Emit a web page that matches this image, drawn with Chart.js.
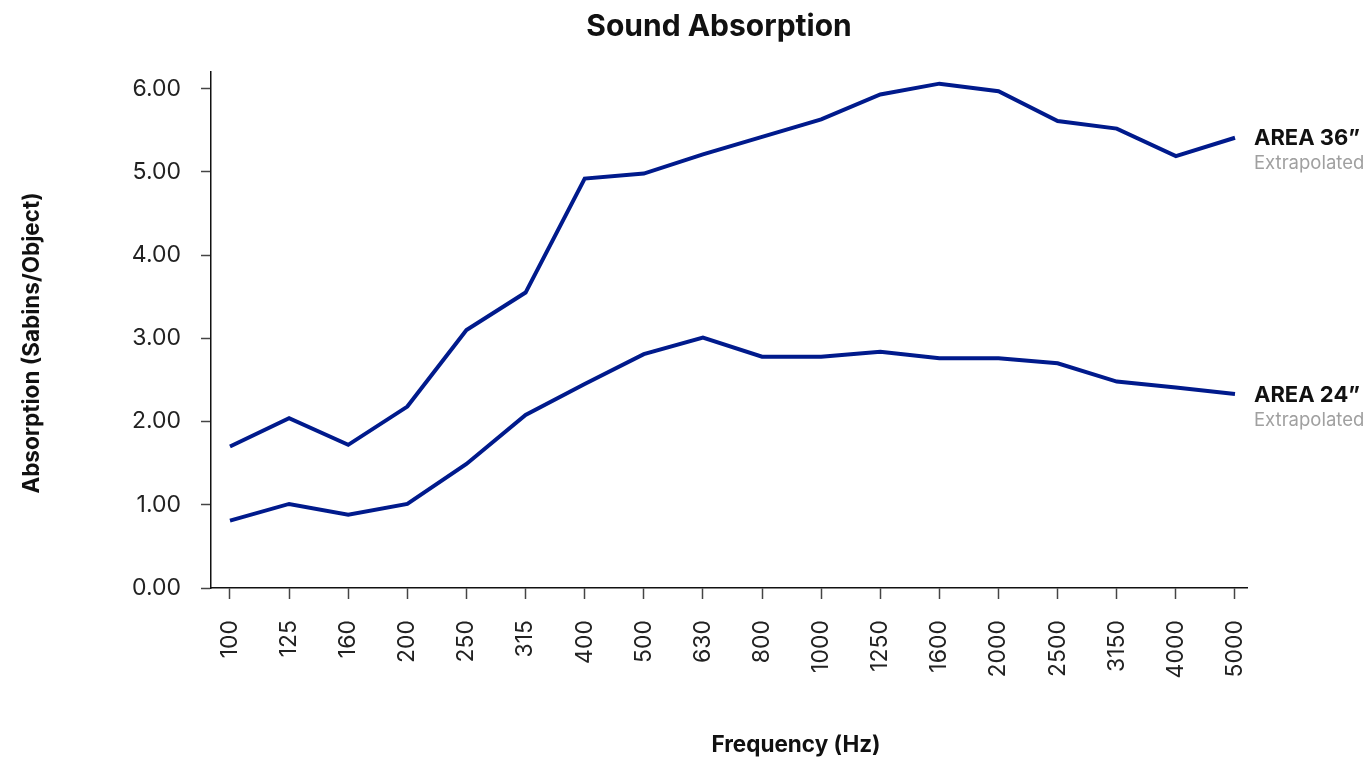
<!DOCTYPE html>
<html>
<head>
<meta charset="utf-8">
<title>Sound Absorption</title>
<script src="https://cdn.jsdelivr.net/npm/chart.js@4"></script>
<style>
    html, body { margin: 0; padding: 0; background: #fff; }
    #wrap { width: 1369px; height: 759px; position: relative; }
</style>
</head>
<body>
<div id="wrap"><canvas id="absChart"></canvas></div>
<script>
// data
const freqLabels = ["100", "125", "160", "200", "250", "315", "400", "500", "630",
    "800", "1000", "1250", "1600", "2000", "2500", "3150", "4000", "5000"];
const area36 = [1.70, 2.04, 1.72, 2.18, 3.10, 3.55, 4.92, 4.98, 5.21,
    5.42, 5.63, 5.93, 6.06, 5.97, 5.61, 5.52, 5.19, 5.41];
const area24 = [0.81, 1.01, 0.88, 1.01, 1.49, 2.08, 2.45, 2.81, 3.01,
    2.78, 2.78, 2.84, 2.76, 2.76, 2.70, 2.48, 2.41, 2.33];
const seriesNames = ["AREA 36\u201D", "AREA 24\u201D"];
const seriesNote = "Extrapolated";
const yTicks = [0, 1, 2, 3, 4, 5, 6];

const LINE = "#001a8c";
const FONT = "Inter, 'Liberation Sans', sans-serif";

const toPoints = arr => arr.map((v, i) => ({ x: i, y: v }));

// title, axis titles and the series names at the right end of each line
const sideLabels = {
    id: "sideLabels",
    afterDraw(chart) {
        const ctx = chart.ctx;
        ctx.save();
        ctx.fillStyle = "#111";
        ctx.textAlign = "center";
        ctx.textBaseline = "middle";

        ctx.font = "bold 30px " + FONT;
        ctx.fillText("Sound Absorption", 719, 27);

        ctx.font = "bold 22.5px " + FONT;
        ctx.fillText("Frequency (Hz)", 796, 745);

        ctx.save();
        ctx.translate(32, 343);
        ctx.rotate(-Math.PI / 2);
        ctx.fillText("Absorption (Sabins/Object)", 0, 0);
        ctx.restore();

        ctx.textAlign = "left";
        chart.data.datasets.forEach((ds, i) => {
            const meta = chart.getDatasetMeta(i);
            const last = meta.data[meta.data.length - 1];
            const y = last.y;
            ctx.fillStyle = "#111";
            ctx.font = "bold 22px " + FONT;
            ctx.fillText(seriesNames[i], 1254, y + 1);
            ctx.fillStyle = "#a0a0a0";
            ctx.font = "18.5px " + FONT;
            ctx.fillText(seriesNote, 1254, y + 26);
        });
        ctx.restore();
    }
};

const ctx = document.getElementById("absChart").getContext("2d");
const absChart = new Chart(ctx, {
    type: "line",
    data: {
        datasets: [
            { label: seriesNames[0], data: toPoints(area36), borderColor: LINE, borderWidth: 4, pointRadius: 0, tension: 0, fill: false },
            { label: seriesNames[1], data: toPoints(area24), borderColor: LINE, borderWidth: 4, pointRadius: 0, tension: 0, fill: false }
        ]
    },
    options: {
        responsive: true,
        maintainAspectRatio: false,
        animation: false,
        layout: { padding: { left: 0, right: 122, top: 72, bottom: 0 } },
        plugins: {
            legend: { display: false },
            tooltip: { enabled: false },
            title: { display: false }
        },
        scales: {
            x: {
                type: "linear",
                min: -0.321,
                max: 17.203,
                afterBuildTicks: s => { s.ticks = freqLabels.map((_, i) => ({ value: i })); },
                afterFit: s => { s.height = 171; },
                ticks: {
                    callback: v => freqLabels[v],
                    autoSkip: false,
                    minRotation: 90,
                    maxRotation: 90,
                    padding: 21,
                    color: "#222",
                    font: { family: FONT, size: 23 }
                },
                grid: { drawOnChartArea: false, drawTicks: true, tickLength: 11, color: "#444", tickWidth: 1.5 },
                border: { color: "#111", width: 1.5 }
            },
            y: {
                min: 0,
                max: 6.2,
                afterBuildTicks: s => { s.ticks = yTicks.map(v => ({ value: v })); },
                afterFit: s => { s.width = 211; },
                ticks: {
                    callback: v => v.toFixed(2),
                    padding: 20,
                    color: "#222",
                    font: { family: FONT, size: 23 }
                },
                grid: { drawOnChartArea: false, drawTicks: true, tickLength: 10, color: "#444", tickWidth: 1.5 },
                border: { color: "#111", width: 1.5 }
            }
        }
    },
    plugins: [sideLabels]
});
</script>
</body>
</html>
